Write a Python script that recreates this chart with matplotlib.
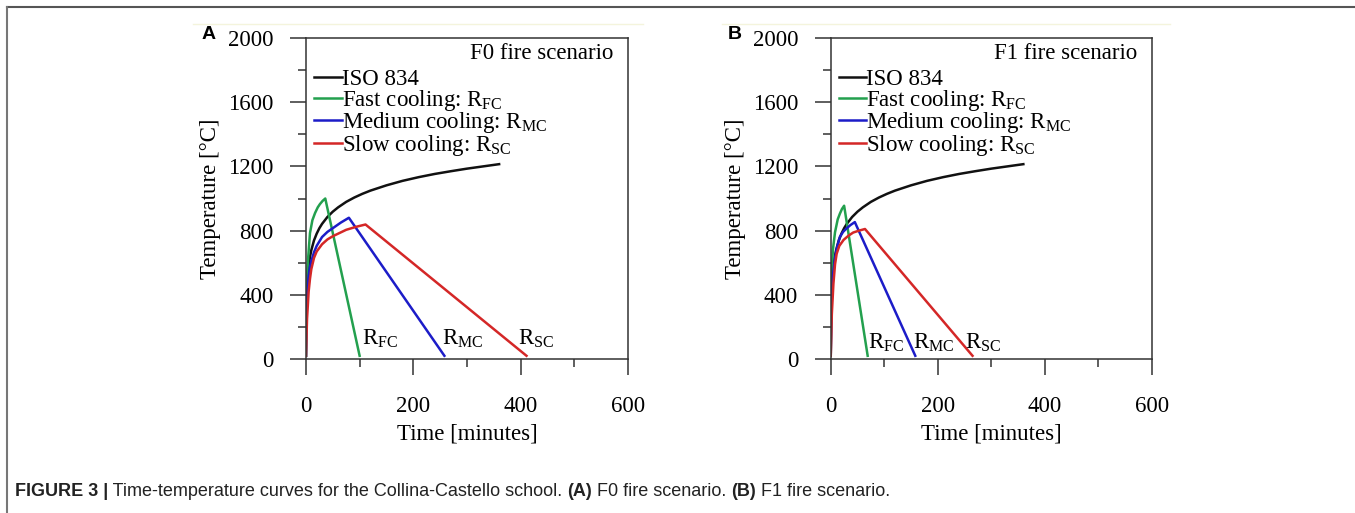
import matplotlib
matplotlib.use('Agg')
import matplotlib.pyplot as plt
from matplotlib.ticker import MultipleLocator
from matplotlib.lines import Line2D

# Curva ISO 834 (igual en los dos paneles)
iso_t = [0, 0.5, 1, 2, 3, 5, 7.5, 10, 15, 20, 25, 30, 40, 50, 60, 75, 90, 105, 120, 150,
         180, 210, 240, 270, 300, 330, 360]
iso_T = [20, 261, 349, 445, 505, 576, 636, 678, 739, 781, 815, 842, 885, 918, 945, 979, 1006,
         1029, 1049, 1082, 1110, 1133, 1153, 1170, 1186, 1200, 1214]

# Panel A: escenario F0
fc_a_t = [0, 0.5, 1, 2, 4.3, 7.5, 12, 17, 22, 26, 31, 36, 100]
fc_a_T = [20, 230, 350, 520, 640, 785, 865, 910, 945, 965, 985, 1000, 20]
mc_a_t = [0, 1, 2, 5, 7.5, 10, 15, 20, 30, 40, 50, 65, 80, 258]
mc_a_T = [20, 300, 400, 520, 575, 610, 665, 705, 760, 792, 815, 850, 880, 20]
sc_a_t = [0, 2, 5, 7.5, 10, 15, 20, 30, 40, 50, 75, 95, 111, 411]
sc_a_T = [20, 250, 420, 500, 560, 630, 670, 715, 745, 765, 805, 825, 838, 20]

# Panel B: escenario F1
fc_b_t = [0, 0.5, 1, 2, 4, 8, 13, 17, 21, 25, 69]
fc_b_T = [20, 260, 400, 550, 680, 790, 870, 905, 935, 955, 20]
mc_b_t = [0, 1, 2, 4, 8, 12, 17, 23, 30, 37, 45, 158]
mc_b_T = [20, 250, 380, 520, 630, 700, 760, 792, 815, 835, 853, 20]
sc_b_t = [0, 2, 5, 8, 11, 16, 24, 33, 42, 53, 64, 265]
sc_b_T = [20, 280, 470, 590, 655, 705, 742, 768, 788, 800, 810, 20]

etiquetas = ['ISO 834',
             r'Fast cooling: $\mathregular{R_{FC}}$',
             r'Medium cooling: $\mathregular{R_{MC}}$',
             r'Slow cooling: $\mathregular{R_{SC}}$']
fin_labels = [r'$\mathregular{R_{FC}}$', r'$\mathregular{R_{MC}}$', r'$\mathregular{R_{SC}}$']
colores = ['#111111', '#23a04e', '#1c1cc8', '#d42727']

plt.rcParams['font.family'] = ['Liberation Serif', 'DejaVu Serif']
plt.rcParams['font.size'] = 16.5

fig = plt.figure(figsize=(13.55, 5.13), dpi=100)

paneles = [
    dict(pos=[0.2258, 0.3002, 0.2376, 0.6257], letra='A', lx=0.154, titulo='F0 fire scenario',
         curvas=[(fc_a_t, fc_a_T), (mc_a_t, mc_a_T), (sc_a_t, sc_a_T)],
         lab_x=[104, 254, 396], lab_y=87, yel=(193, 643)),
    dict(pos=[0.6131, 0.3002, 0.2369, 0.6257], letra='B', lx=0.5424, titulo='F1 fire scenario',
         curvas=[(fc_b_t, fc_b_T), (mc_b_t, mc_b_T), (sc_b_t, sc_b_T)],
         lab_x=[69, 154, 250], lab_y=67, yel=(722, 1170)),
]

for p in paneles:
    ax = fig.add_axes(p['pos'])
    ax.plot(iso_t, iso_T, color=colores[0], lw=1.8)
    for (t, T), c in zip(p['curvas'], colores[1:]):
        ax.plot(t, T, color=c, lw=1.8)
    for x, lab in zip(p['lab_x'], fin_labels):
        ax.text(x, p['lab_y'], lab, fontsize=16.5, ha='left', va='baseline')

    ax.set_xlim(0, 600)
    ax.set_ylim(0, 2000)
    ax.xaxis.set_major_locator(MultipleLocator(200))
    ax.xaxis.set_minor_locator(MultipleLocator(100))
    ax.yaxis.set_major_locator(MultipleLocator(400))
    ax.yaxis.set_minor_locator(MultipleLocator(200))
    ax.tick_params(which='major', direction='out', length=11.5, width=1.1, color='#333333')
    ax.tick_params(which='minor', direction='out', length=5.8, width=1.1, color='#333333')
    ax.tick_params(axis='y', which='major', pad=12, labelsize=16.5)
    ax.tick_params(axis='x', which='major', pad=15, labelsize=16.5)
    for s in ax.spines.values():
        s.set_color('#333333')
        s.set_linewidth(1.1)

    ax.set_xlabel('Time [minutes]', fontsize=16.5, labelpad=5)
    ax.set_ylabel('Temperature [°C]', fontsize=16.5, labelpad=5)

    handles = [Line2D([], [], color=c, lw=1.8) for c in colores]
    ax.legend(handles, etiquetas, loc='upper left', bbox_to_anchor=(0.025, 0.904),
              frameon=False, fontsize=16.5, handlelength=1.2, handletextpad=0.0,
              labelspacing=-0.1, borderpad=0, borderaxespad=0)
    ax.text(0.955, 0.952, p['titulo'], transform=ax.transAxes, ha='right', va='center', fontsize=16.5)

    fig.text(p['lx'], 0.932, p['letra'], fontsize=14, fontweight='bold',
             family=['Liberation Sans', 'DejaVu Sans'], ha='center', va='center')
    # linea amarilla tenue sobre cada panel
    fig.add_artist(Line2D([p['yel'][0] / 1355, p['yel'][1] / 1355], [1 - 24 / 513, 1 - 24 / 513],
                          color='#f4f4dc', lw=1.0))

# marco de la figura
fig.add_artist(Line2D([7.5 / 1355, 1], [1 - 6.5 / 513, 1 - 6.5 / 513], color='#555555', lw=1.5))
fig.add_artist(Line2D([7.5 / 1355, 7.5 / 1355], [0, 1 - 6.5 / 513], color='#777777', lw=1.5))

# pie de figura con partes en negrita
fam = ['Liberation Sans Narrow', 'Liberation Sans', 'DejaVu Sans']
partes = [('FIGURE 3 |', 'bold'),
          (' Time-temperature curves for the Collina-Castello school. ', 'normal'),
          ('(A)', 'bold'), (' F0 fire scenario. ', 'normal'),
          ('(B)', 'bold'), (' F1 fire scenario.', 'normal')]
renderer = fig.canvas.get_renderer()
x = 15 / 1355
for txt, w in partes:
    t = fig.text(x, 1 - 491 / 513, txt, fontsize=13, fontweight=w, family=fam,
                 ha='left', va='center', color='#222222')
    bb = t.get_window_extent(renderer)
    x += bb.width / fig.bbox.width

fig.savefig('out.png', dpi=100)
